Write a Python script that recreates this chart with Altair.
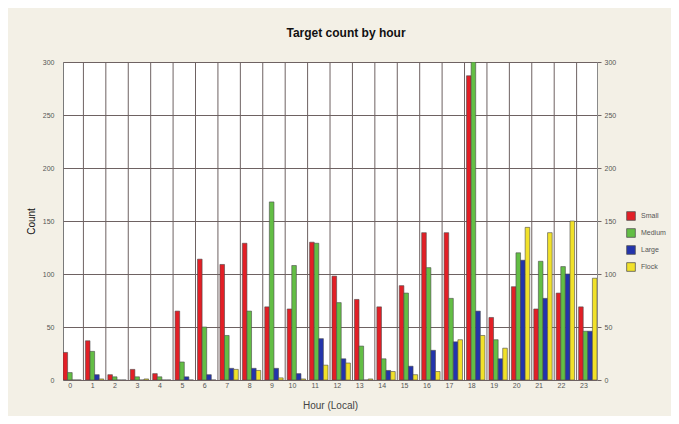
import altair as alt
import pandas as pd

hours = list(range(24))
sizes = ["Small", "Medium", "Large", "Flock"]
colors = ["#e21f26", "#63be45", "#2334ac", "#f1e12a"]

small = [26, 37, 5, 10, 6, 65, 114, 109, 129, 69, 67, 130, 98, 76, 69, 89, 139, 139, 287, 59, 88, 67, 82, 69]
medium = [7, 27, 3, 3, 3, 17, 50, 42, 65, 168, 108, 129, 73, 32, 20, 82, 106, 77, 300, 38, 120, 112, 107, 46]
large = [0, 5, 0, 0, 0, 3, 5, 11, 11, 11, 6, 39, 20, 0, 9, 13, 28, 36, 65, 20, 113, 77, 100, 46]
flock = [0, 1, 0, 1, 0, 0, 0, 10, 9, 2, 1, 14, 16, 1, 8, 5, 8, 38, 42, 30, 144, 139, 150, 96]

y_ticks = [0, 50, 100, 150, 200, 250, 300]

rows = []
for i, h in enumerate(hours):
    for name, vals in zip(sizes, [small, medium, large, flock]):
        rows.append({"hour": h, "size": name, "count": vals[i]})
df = pd.DataFrame(rows)
grid_df = pd.DataFrame({"hour": hours[1:]})

GRID = "#6e6262"
LAB = "#555555"

xscale = alt.Scale(paddingInner=0.18, paddingOuter=0)
yscale = alt.Scale(domain=[0, 300], nice=False)

bars = alt.Chart(df).mark_bar(stroke="#4a4a4a", strokeWidth=0.6, clip=True).encode(
    x=alt.X("hour:O", scale=xscale,
            axis=alt.Axis(title="Hour (Local)", labelAngle=0, ticks=False, domain=False, grid=False,
                          labelFontSize=7, labelColor=LAB, labelPadding=5,
                          titleFontSize=10, titleFontWeight="normal", titleColor="#444444", titlePadding=12)),
    xOffset=alt.XOffset("size:N", sort=sizes, scale=alt.Scale(paddingInner=0, paddingOuter=0)),
    y=alt.Y("count:Q", scale=yscale,
            axis=alt.Axis(title="Count", values=y_ticks, grid=True, gridColor=GRID, gridWidth=1, gridOpacity=1,
                          ticks=False, domain=False, labelFontSize=7, labelColor=LAB, labelPadding=9,
                          titleFontSize=10, titleFontWeight="normal", titleColor="#111111", titlePadding=6)),
    color=alt.Color("size:N", sort=sizes, scale=alt.Scale(domain=sizes, range=colors),
                    legend=alt.Legend(title=None, orient="none", legendX=563, legendY=149,
                                      symbolType="square", symbolSize=75, symbolStrokeColor="#555555",
                                      symbolStrokeWidth=0.8, symbolOpacity=1, labelFontSize=7, labelColor=LAB,
                                      rowPadding=5, labelOffset=5)),
)

vlines = alt.Chart(grid_df).mark_rule(color=GRID, strokeWidth=1, xOffset=-2).encode(
    x=alt.X("hour:O", bandPosition=0, scale=xscale)
)

right_axis = alt.Chart(df).mark_point(opacity=0).encode(
    x=alt.X("hour:O", scale=xscale),
    y=alt.Y("count:Q", scale=yscale,
            axis=alt.Axis(title=None, orient="right", values=y_ticks, grid=False, ticks=True, tickSize=4,
                          tickColor=GRID, domain=True, domainColor="#8a8a8a", labelFontSize=7,
                          labelColor=LAB, labelPadding=3)),
)

chart = alt.layer(vlines, bars, right_axis).resolve_axis(y="independent").properties(
    width=534,
    height=318,
    title=alt.TitleParams("Target count by hour", fontSize=12, fontWeight="bold", color="#111111",
                          anchor="middle", offset=18, dx=16),
    autosize=alt.AutoSizeParams(type="none"),
    padding={"left": 55, "top": 54, "right": 74, "bottom": 36},
).configure(
    background="#f3f0e6",
    font="Liberation Sans",
).configure_view(
    fill="white", stroke="#7a7a7a", strokeWidth=1
)

chart.save("out.html", embed_options={"renderer": "svg", "actions": False})
